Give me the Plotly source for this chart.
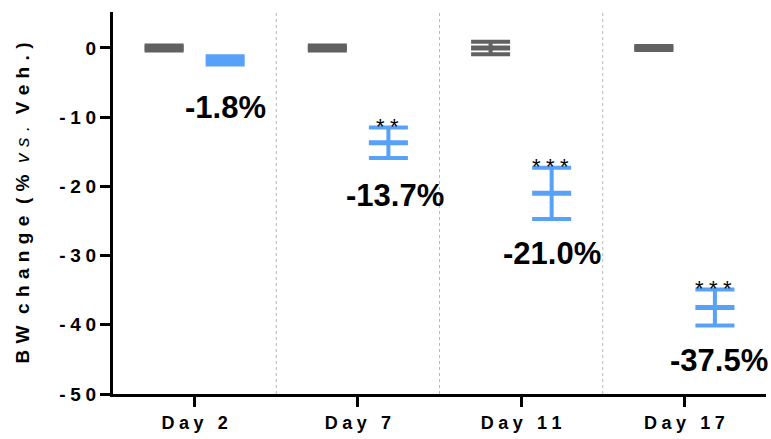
import plotly.graph_objects as go

# Body-weight change relative to vehicle, per study day
days = ["Day 2", "Day 7", "Day 11", "Day 17"]
veh_mean = [0.0, 0.0, 0.0, 0.0]
veh_sem = [0.35, 0.35, 0.9, 0.3]
trt_mean = [-1.8, -13.7, -21.0, -37.5]
trt_sem = [0.6, 2.2, 3.7, 2.6]
trt_labels = ["-1.8%", "-13.7%", "-21.0%", "-37.5%"]
stars = ["", "**", "***", "***"]
y_ticks = [0, -10, -20, -30, -40, -50]

GRAY = "#616161"
BLUE = "#58A1F9"
FONT = "Liberation Sans, Arial, sans-serif"
SP = "\u2005"   # narrow space for letter-spaced tick labels
SP3 = "\u2004"  # slightly wider space for the axis title


def spaced(s, sp=SP):
    return sp.join(list(s))


idx = list(range(len(days)))
offset = 0.187
x_veh = [i - offset for i in idx]
x_trt = [i + offset for i in idx]

fig = go.Figure()


def group_trace(x, mean, sem, color):
    # line-ew symbols are drawn 1.4x the marker size wide
    return go.Scatter(
        x=x, y=mean, mode="markers",
        marker=dict(symbol="line-ew", size=27.9, color=color,
                    line=dict(color=color, width=5)),
        error_y=dict(type="data", array=sem, visible=True,
                     color=color, thickness=4, width=19.5),
        showlegend=False, hoverinfo="skip",
    )


fig.add_trace(group_trace(x_veh, veh_mean, veh_sem, GRAY))
fig.add_trace(group_trace(x_trt, trt_mean, trt_sem, BLUE))

# dotted separators between day groups
for b in [0.5, 1.5, 2.5]:
    fig.add_shape(type="line", xref="x", yref="paper", x0=b, x1=b, y0=0, y1=1,
                  line=dict(color="#b8b8b8", width=1, dash="dot"), layer="below")

# percentage labels under each treated group, significance stars above
label_dy = [43, 37, 35, 35]
label_dx = [0, 7, 0, 4]
for i in idx:
    fig.add_annotation(
        x=x_trt[i], y=trt_mean[i] - trt_sem[i], text=trt_labels[i],
        showarrow=False, yanchor="middle", xanchor="center",
        yshift=-label_dy[i], xshift=label_dx[i],
        font=dict(family=FONT, size=31, color="black", weight="bold"),
    )
    if stars[i]:
        fig.add_annotation(
            x=x_trt[i], y=trt_mean[i] + trt_sem[i], text=SP.join(stars[i]),
            showarrow=False, yanchor="bottom", xanchor="center",
            yshift=-13, xshift=-1,
            font=dict(family=FONT, size=22, color="black"),
        )

words = ["BW", "change", "(%", None, "Veh.)"]
title_parts = []
for w in words:
    if w is None:
        title_parts.append("<span style='font-weight:normal'><i>" + spaced("vs.", SP3) + "</i></span>")
    else:
        title_parts.append(spaced(w, SP3))
title = (" " + SP3).join(title_parts)

fig.update_layout(
    width=771, height=439,
    margin=dict(l=113, r=5, t=12, b=45),
    plot_bgcolor="white", paper_bgcolor="white",
    font=dict(family=FONT, color="black"),
    xaxis=dict(
        range=[-0.5, 3.5], tickmode="array", tickvals=idx,
        ticktext=[spaced(d) for d in days],
        showgrid=False, zeroline=False, showline=True, linecolor="black", linewidth=3,
        ticks="outside", ticklen=10, tickwidth=3, tickcolor="black",
        tickfont=dict(family=FONT, size=18, color="black", weight="bold"),
    ),
    yaxis=dict(
        range=[-50, 5.2], tickmode="array", tickvals=y_ticks,
        ticktext=[spaced(str(v)) for v in y_ticks],
        showgrid=False, zeroline=False, showline=True, linecolor="black", linewidth=3,
        ticks="outside", ticklen=10, tickwidth=3, tickcolor="black",
        tickfont=dict(family=FONT, size=19, color="black", weight="bold"),
        title=dict(text=title, standoff=25,
                   font=dict(family=FONT, size=19, color="black", weight="bold")),
    ),
)

fig.write_html("out.html")
